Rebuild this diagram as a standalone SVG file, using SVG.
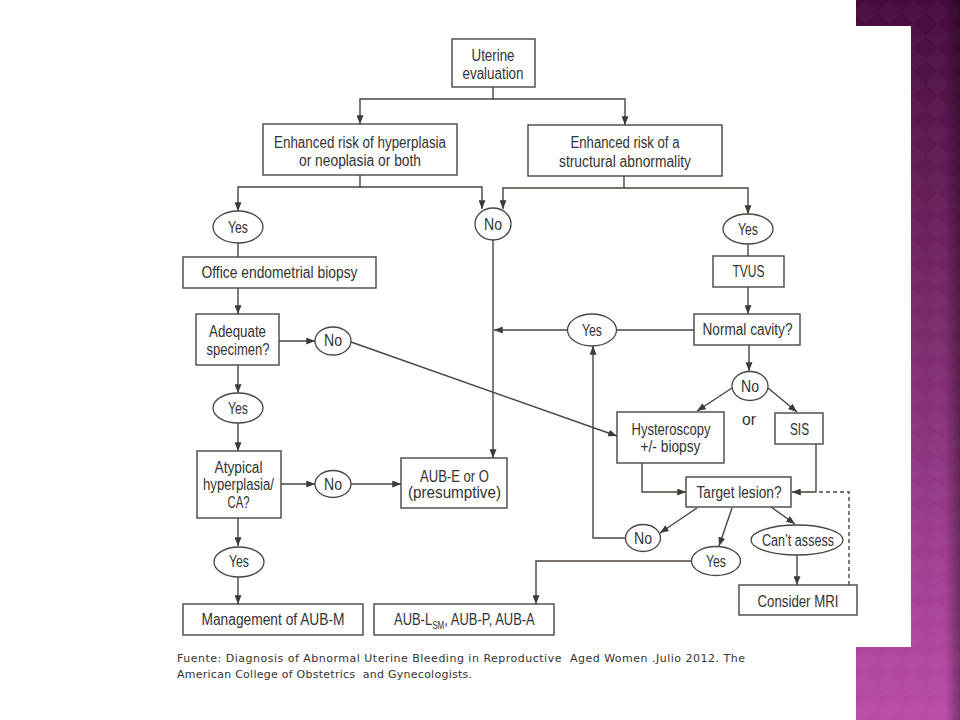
<svg xmlns="http://www.w3.org/2000/svg" width="960" height="720" viewBox="0 0 960 720">
<defs>
<linearGradient id="purple" x1="0" y1="0" x2="0" y2="1">
<stop offset="0" stop-color="#470b3c"/>
<stop offset="0.45" stop-color="#7a2a6c"/>
<stop offset="1" stop-color="#b94ca8"/>
</linearGradient>
<linearGradient id="shade" x1="0" y1="0" x2="1" y2="0">
<stop offset="0" stop-color="#000" stop-opacity="0"/>
<stop offset="1" stop-color="#000" stop-opacity="0.35"/>
</linearGradient>
<pattern id="diamonds" width="34" height="34" patternUnits="userSpaceOnUse" patternTransform="rotate(45)">
<rect width="17" height="17" fill="#fff" fill-opacity="0.025"/>
<rect x="17" y="17" width="17" height="17" fill="#fff" fill-opacity="0.025"/>
</pattern>
<marker id="arr" viewBox="0 0 10 8" refX="10" refY="4" markerWidth="9" markerHeight="7" markerUnits="userSpaceOnUse" orient="auto">
<path d="M0,0 L10,4 L0,8 z" fill="#3f3a35"/>
</marker>
<style>
.box{fill:#fff;stroke:#4a4540;stroke-width:1.4}
.ell{fill:#fff;stroke:#4a4540;stroke-width:1.3}
.t{font-family:"Liberation Sans",Arial,sans-serif;font-size:16px;fill:#333;text-anchor:middle}
.tl{font-family:"Liberation Sans",Arial,sans-serif;font-size:16px;fill:#333}
.c{stroke:#4a4540;stroke-width:1.4;fill:none}
.a{marker-end:url(#arr)}
.d{stroke-dasharray:4 3}
.cap{font-family:"DejaVu Sans",Verdana,sans-serif;font-size:11px;fill:#333;white-space:pre}
</style>
</defs>
<rect width="960" height="720" fill="#fff"/>
<g id="sidebar">
<rect x="856" y="0" width="104" height="720" fill="url(#purple)"/>
<rect x="856" y="0" width="104" height="720" fill="url(#diamonds)"/>
<rect x="946" y="0" width="14" height="720" fill="url(#shade)"/>
<rect x="856" y="26" width="55" height="621" fill="#fff"/>
</g>
<g id="connectors">
<path class="c a" d="M493,87 V99 H360 V124"/>
<path class="c a" d="M493,99 H625 V125"/>
<path class="c a" d="M360,175 V187 H238 V211"/>
<path class="c a" d="M360,187 H482 V209"/>
<path class="c a" d="M624,176 V188 H503 V209"/>
<path class="c a" d="M624,188 H748 V214"/>
<path class="c" d="M748,244 V256"/>
<path class="c a" d="M748,287 V314"/>
<path class="c" d="M694,330 H617"/>
<path class="c a" d="M568,330 H494"/>
<path class="c a" d="M493,240 V458"/>
<path class="c" d="M238,243 V257"/>
<path class="c a" d="M238,288 V314"/>
<path class="c a" d="M279,341 H315"/>
<path class="c a" d="M351,342 L617,436"/>
<path class="c a" d="M238,365 V393"/>
<path class="c a" d="M238,423 V451"/>
<path class="c a" d="M281,484 H315"/>
<path class="c a" d="M351,484 H401"/>
<path class="c a" d="M238,518 V546"/>
<path class="c a" d="M238,577 V604"/>
<path class="c a" d="M749,345 V371"/>
<path class="c a" d="M732,388 L697,411"/>
<path class="c a" d="M768,388 L797,412"/>
<path class="c a" d="M642,463 V492 H686"/>
<path class="c a" d="M816,444 V492 H792"/>
<path class="c d" d="M849,585 V492 H816"/>
<path class="c a" d="M697,508 L660,533"/>
<path class="c a" d="M626,538 H593 V346"/>
<path class="c a" d="M732,508 L719,546"/>
<path class="c a" d="M771,507 L795,524"/>
<path class="c a" d="M797,555 V585"/>
<path class="c a" d="M691,561 H536 V604"/>
</g>
<g id="uterine-evaluation">
<rect class="box" x="452" y="39" width="83" height="48"/>
<text class="t" x="493" y="61" textLength="43" lengthAdjust="spacingAndGlyphs">Uterine</text>
<text class="t" x="493" y="79" textLength="61" lengthAdjust="spacingAndGlyphs">evaluation</text>
</g>
<g id="risk-hyperplasia">
<rect class="box" x="263" y="124" width="194" height="51"/>
<text class="t" x="360" y="148" textLength="172" lengthAdjust="spacingAndGlyphs">Enhanced risk of hyperplasia</text>
<text class="t" x="360" y="166" textLength="122" lengthAdjust="spacingAndGlyphs">or neoplasia or both</text>
</g>
<g id="risk-structural">
<rect class="box" x="528" y="125" width="194" height="51"/>
<text class="t" x="625" y="148" textLength="109" lengthAdjust="spacingAndGlyphs">Enhanced risk of a</text>
<text class="t" x="625" y="167" textLength="132" lengthAdjust="spacingAndGlyphs">structural abnormality</text>
</g>
<g id="yes-1">
<ellipse class="ell" cx="238" cy="227" rx="25" ry="16"/>
<text class="t" x="238" y="233" textLength="20" lengthAdjust="spacingAndGlyphs">Yes</text>
</g>
<g id="no-1">
<ellipse class="ell" cx="493" cy="224" rx="18" ry="16"/>
<text class="t" x="493" y="230" textLength="18" lengthAdjust="spacingAndGlyphs">No</text>
</g>
<g id="yes-2">
<ellipse class="ell" cx="748" cy="229" rx="25" ry="15"/>
<text class="t" x="748" y="235" textLength="20" lengthAdjust="spacingAndGlyphs">Yes</text>
</g>
<g id="tvus">
<rect class="box" x="713" y="256" width="71" height="31"/>
<text class="t" x="748.5" y="277" textLength="32" lengthAdjust="spacingAndGlyphs">TVUS</text>
</g>
<g id="normal-cavity">
<rect class="box" x="694" y="314" width="106" height="31"/>
<text class="t" x="747.5" y="335" textLength="90" lengthAdjust="spacingAndGlyphs">Normal cavity?</text>
</g>
<g id="yes-3">
<ellipse class="ell" cx="592" cy="330" rx="24.5" ry="16"/>
<text class="t" x="592" y="336" textLength="20" lengthAdjust="spacingAndGlyphs">Yes</text>
</g>
<g id="office-biopsy">
<rect class="box" x="183" y="257" width="193" height="31"/>
<text class="t" x="279.5" y="278" textLength="156" lengthAdjust="spacingAndGlyphs">Office endometrial biopsy</text>
</g>
<g id="adequate-specimen">
<rect class="box" x="196" y="314" width="83" height="51"/>
<text class="t" x="237.5" y="337" textLength="57" lengthAdjust="spacingAndGlyphs">Adequate</text>
<text class="t" x="238" y="355" textLength="63" lengthAdjust="spacingAndGlyphs">specimen?</text>
</g>
<g id="no-2">
<ellipse class="ell" cx="333" cy="341" rx="18" ry="14"/>
<text class="t" x="333" y="346" textLength="18" lengthAdjust="spacingAndGlyphs">No</text>
</g>
<g id="yes-4">
<ellipse class="ell" cx="238" cy="408" rx="25" ry="15"/>
<text class="t" x="238" y="414" textLength="20" lengthAdjust="spacingAndGlyphs">Yes</text>
</g>
<g id="atypical">
<rect class="box" x="197" y="451" width="84" height="67"/>
<text class="t" x="238.5" y="473" textLength="48" lengthAdjust="spacingAndGlyphs">Atypical</text>
<text class="t" x="238.5" y="490" textLength="71" lengthAdjust="spacingAndGlyphs">hyperplasia/</text>
<text class="t" x="238.5" y="508" textLength="22" lengthAdjust="spacingAndGlyphs">CA?</text>
</g>
<g id="no-3">
<ellipse class="ell" cx="333" cy="484" rx="18" ry="13.5"/>
<text class="t" x="333" y="489.5" textLength="18" lengthAdjust="spacingAndGlyphs">No</text>
</g>
<g id="aub-e-o">
<rect class="box" x="401" y="458" width="106" height="50"/>
<text class="t" x="454.5" y="482" textLength="69" lengthAdjust="spacingAndGlyphs">AUB-E or O</text>
<text class="t" x="454.5" y="498" textLength="93" lengthAdjust="spacingAndGlyphs">(presumptive)</text>
</g>
<g id="yes-5">
<ellipse class="ell" cx="239" cy="562" rx="25" ry="15"/>
<text class="t" x="239" y="567" textLength="20" lengthAdjust="spacingAndGlyphs">Yes</text>
</g>
<g id="management-aub-m">
<rect class="box" x="183" y="604" width="180" height="31"/>
<text class="t" x="273" y="625" textLength="143" lengthAdjust="spacingAndGlyphs">Management of AUB-M</text>
</g>
<g id="aub-l-p-a">
<rect class="box" x="374" y="604" width="180" height="31"/>
<text class="tl" transform="translate(394,625) scale(0.81,1)" x="0" y="0">AUB-L<tspan dy="4" style="font-size:10px">SM</tspan><tspan dy="-4">, AUB-P, AUB-A</tspan></text>
</g>
<g id="no-4">
<ellipse class="ell" cx="750" cy="386" rx="18" ry="14.5"/>
<text class="t" x="750" y="392" textLength="18" lengthAdjust="spacingAndGlyphs">No</text>
</g>
<g id="or-label">
<text class="t" x="749" y="425" textLength="14" lengthAdjust="spacingAndGlyphs">or</text>
</g>
<g id="hysteroscopy">
<rect class="box" x="617" y="412" width="107" height="51"/>
<text class="t" x="671" y="435" textLength="79" lengthAdjust="spacingAndGlyphs">Hysteroscopy</text>
<text class="t" x="670.5" y="452" textLength="60" lengthAdjust="spacingAndGlyphs">+/- biopsy</text>
</g>
<g id="sis">
<rect class="box" x="775" y="413" width="48" height="31"/>
<text class="t" x="799.5" y="435" textLength="19" lengthAdjust="spacingAndGlyphs">SIS</text>
</g>
<g id="target-lesion">
<rect class="box" x="686" y="477" width="105" height="30"/>
<text class="t" x="739" y="498" textLength="85" lengthAdjust="spacingAndGlyphs">Target lesion?</text>
</g>
<g id="no-5">
<ellipse class="ell" cx="643" cy="538" rx="17.5" ry="13.5"/>
<text class="t" x="643" y="544" textLength="18" lengthAdjust="spacingAndGlyphs">No</text>
</g>
<g id="yes-6">
<ellipse class="ell" cx="716" cy="561" rx="24.5" ry="14.5"/>
<text class="t" x="716" y="567" textLength="20" lengthAdjust="spacingAndGlyphs">Yes</text>
</g>
<g id="cant-assess">
<ellipse class="ell" cx="797" cy="540" rx="46" ry="15"/>
<text class="t" x="798" y="546" textLength="72" lengthAdjust="spacingAndGlyphs">Can’t assess</text>
</g>
<g id="consider-mri">
<rect class="box" x="739" y="585" width="118" height="30"/>
<text class="t" x="798" y="607" textLength="81" lengthAdjust="spacingAndGlyphs">Consider MRI</text>
</g>
<g id="caption">
<text class="cap" x="177" y="662" textLength="568" lengthAdjust="spacing">Fuente: Diagnosis of Abnormal Uterine Bleeding in Reproductive  Aged Women .Julio 2012. The</text>
<text class="cap" x="177" y="678" textLength="295" lengthAdjust="spacing">American College of Obstetrics  and Gynecologists.</text>
</g>
</svg>
